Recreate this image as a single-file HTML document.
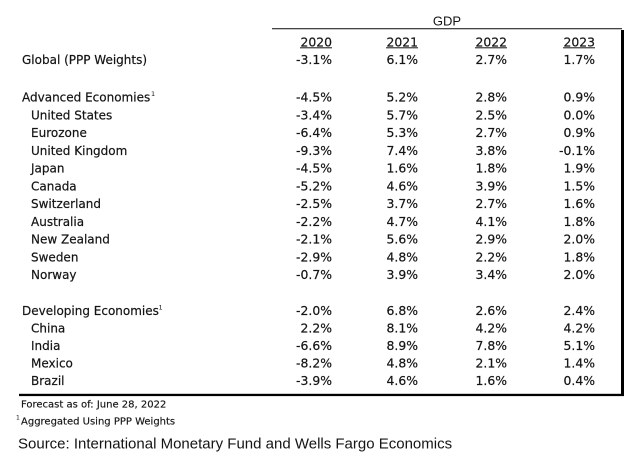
<!DOCTYPE html>
<html>
<head>
<meta charset="utf-8">
<style>
  html, body { margin: 0; padding: 0; background: #fff; }
  body { width: 624px; height: 458px; overflow: hidden; }
  svg { display: block; }
  .t { font-family: "DejaVu Sans", "Liberation Sans", sans-serif; font-size: 12px; fill: #141414; stroke: #141414; stroke-width: 0.2px; }
  .n { font-family: "DejaVu Sans", "Liberation Sans", sans-serif; font-size: 12.4px; fill: #141414; text-anchor: end; stroke: #141414; stroke-width: 0.2px; }
  .f { font-family: "DejaVu Sans", "Liberation Sans", sans-serif; font-size: 10px; fill: #141414; stroke: #141414; stroke-width: 0.15px; }
  .s { font-family: "Liberation Sans", sans-serif; font-size: 15px; fill: #141414; }
  .g { font-family: "Liberation Sans", sans-serif; font-size: 13px; fill: #141414; text-anchor: middle; }
  .sup { font-family: "DejaVu Sans", "Liberation Sans", sans-serif; font-size: 6.5px; fill: #141414; }
</style>
</head>
<body>
<svg width="624" height="458" viewBox="0 0 624 458" xmlns="http://www.w3.org/2000/svg">
  <!-- header -->
  <text class="g" x="447" y="25.5">GDP</text>
  <rect x="272" y="28" width="350" height="1.3" fill="#444"/>
  <rect x="621" y="30" width="3" height="365" fill="#000"/>

  <text class="n" x="332" y="46.3">2020</text>
  <text class="n" x="418" y="46.3">2021</text>
  <text class="n" x="507" y="46.3">2022</text>
  <text class="n" x="595" y="46.3">2023</text>
  <rect x="300" y="47.3" width="32" height="1" fill="#141414"/>
  <rect x="386" y="47.3" width="32" height="1" fill="#141414"/>
  <rect x="475" y="47.3" width="32" height="1" fill="#141414"/>
  <rect x="563" y="47.3" width="32" height="1" fill="#141414"/>

  <!-- Global -->
  <text class="t" x="22" y="64">Global (PPP Weights)</text>
  <text class="n" x="332" y="64">-3.1%</text><text class="n" x="418" y="64">6.1%</text><text class="n" x="507" y="64">2.7%</text><text class="n" x="595" y="64">1.7%</text>

  <!-- Advanced -->
  <text class="t" x="22" y="101.5">Advanced Economies</text>
  <text class="sup" x="151" y="96">1</text>
  <text class="n" x="332" y="101.5">-4.5%</text><text class="n" x="418" y="101.5">5.2%</text><text class="n" x="507" y="101.5">2.8%</text><text class="n" x="595" y="101.5">0.9%</text>

  <text class="t" x="31" y="119.25">United States</text>
  <text class="n" x="332" y="119.25">-3.4%</text><text class="n" x="418" y="119.25">5.7%</text><text class="n" x="507" y="119.25">2.5%</text><text class="n" x="595" y="119.25">0.0%</text>

  <text class="t" x="31" y="137">Eurozone</text>
  <text class="n" x="332" y="137">-6.4%</text><text class="n" x="418" y="137">5.3%</text><text class="n" x="507" y="137">2.7%</text><text class="n" x="595" y="137">0.9%</text>

  <text class="t" x="31" y="154.75">United Kingdom</text>
  <text class="n" x="332" y="154.75">-9.3%</text><text class="n" x="418" y="154.75">7.4%</text><text class="n" x="507" y="154.75">3.8%</text><text class="n" x="595" y="154.75">-0.1%</text>

  <text class="t" x="31" y="172.5">Japan</text>
  <text class="n" x="332" y="172.5">-4.5%</text><text class="n" x="418" y="172.5">1.6%</text><text class="n" x="507" y="172.5">1.8%</text><text class="n" x="595" y="172.5">1.9%</text>

  <text class="t" x="31" y="190.25">Canada</text>
  <text class="n" x="332" y="190.25">-5.2%</text><text class="n" x="418" y="190.25">4.6%</text><text class="n" x="507" y="190.25">3.9%</text><text class="n" x="595" y="190.25">1.5%</text>

  <text class="t" x="31" y="208">Switzerland</text>
  <text class="n" x="332" y="208">-2.5%</text><text class="n" x="418" y="208">3.7%</text><text class="n" x="507" y="208">2.7%</text><text class="n" x="595" y="208">1.6%</text>

  <text class="t" x="31" y="225.75">Australia</text>
  <text class="n" x="332" y="225.75">-2.2%</text><text class="n" x="418" y="225.75">4.7%</text><text class="n" x="507" y="225.75">4.1%</text><text class="n" x="595" y="225.75">1.8%</text>

  <text class="t" x="31" y="243.5">New Zealand</text>
  <text class="n" x="332" y="243.5">-2.1%</text><text class="n" x="418" y="243.5">5.6%</text><text class="n" x="507" y="243.5">2.9%</text><text class="n" x="595" y="243.5">2.0%</text>

  <text class="t" x="31" y="261.25">Sweden</text>
  <text class="n" x="332" y="261.25">-2.9%</text><text class="n" x="418" y="261.25">4.8%</text><text class="n" x="507" y="261.25">2.2%</text><text class="n" x="595" y="261.25">1.8%</text>

  <text class="t" x="31" y="279">Norway</text>
  <text class="n" x="332" y="279">-0.7%</text><text class="n" x="418" y="279">3.9%</text><text class="n" x="507" y="279">3.4%</text><text class="n" x="595" y="279">2.0%</text>

  <!-- Developing -->
  <text class="t" x="22" y="315">Developing Economies</text>
  <text class="sup" x="158.5" y="309.5">1</text>
  <text class="n" x="332" y="315">-2.0%</text><text class="n" x="418" y="315">6.8%</text><text class="n" x="507" y="315">2.6%</text><text class="n" x="595" y="315">2.4%</text>

  <text class="t" x="31" y="332.5">China</text>
  <text class="n" x="332" y="332.5">2.2%</text><text class="n" x="418" y="332.5">8.1%</text><text class="n" x="507" y="332.5">4.2%</text><text class="n" x="595" y="332.5">4.2%</text>

  <text class="t" x="31" y="350">India</text>
  <text class="n" x="332" y="350">-6.6%</text><text class="n" x="418" y="350">8.9%</text><text class="n" x="507" y="350">7.8%</text><text class="n" x="595" y="350">5.1%</text>

  <text class="t" x="31" y="367.5">Mexico</text>
  <text class="n" x="332" y="367.5">-8.2%</text><text class="n" x="418" y="367.5">4.8%</text><text class="n" x="507" y="367.5">2.1%</text><text class="n" x="595" y="367.5">1.4%</text>

  <text class="t" x="31" y="385">Brazil</text>
  <text class="n" x="332" y="385">-3.9%</text><text class="n" x="418" y="385">4.6%</text><text class="n" x="507" y="385">1.6%</text><text class="n" x="595" y="385">0.4%</text>

  <!-- bottom rule -->
  <rect x="19" y="393.8" width="605" height="2.3" fill="#000"/>

  <!-- footnotes -->
  <text class="f" x="21" y="407.5">Forecast as of: June 28, 2022</text>
  <text class="sup" x="16" y="419.5" style="font-size:6px">1</text>
  <text class="f" x="21" y="424.3">Aggregated Using PPP Weights</text>
  <text class="s" x="18" y="448.3">Source: International Monetary Fund and Wells Fargo Economics</text>
</svg>
</body>
</html>
